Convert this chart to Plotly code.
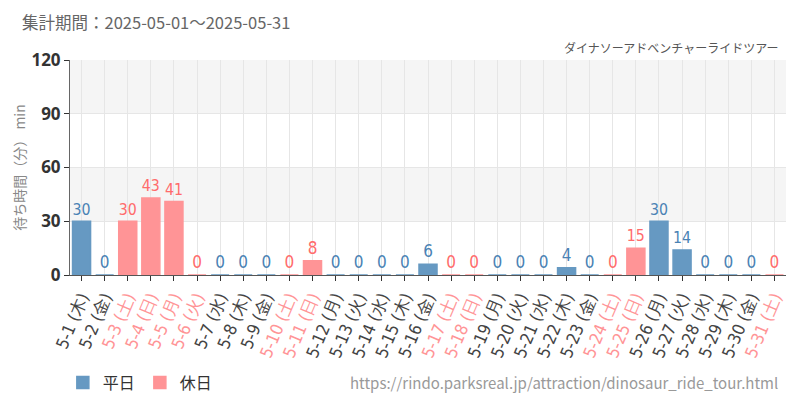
import plotly.graph_objects as go

days = [f"5-{d}" for d in range(1, 32)]
youbi = ["木", "金", "土", "日", "月", "火", "水", "木", "金", "土", "日",
         "月", "火", "水", "木", "金", "土", "日", "月", "火", "水", "木",
         "金", "土", "日", "月", "火", "水", "木", "金", "土"]
holiday = [0, 0, 1, 1, 1, 1, 0, 0, 0, 1, 1,
           0, 0, 0, 0, 0, 1, 1, 0, 0, 0, 0,
           0, 1, 1, 0, 0, 0, 0, 0, 1]
wait = [30, 0, 30, 43, 41, 0, 0, 0, 0, 0, 8,
        0, 0, 0, 0, 6, 0, 0, 0, 0, 0, 4,
        0, 0, 15, 30, 14, 0, 0, 0, 0]

BLUE = "#6699c2"
PINK = "#ff9496"
BLUE_TXT = "#4a82b4"
PINK_TXT = "#ff6b6b"

ticktext = []
for d, w, h in zip(days, youbi, holiday):
    lab = f"{d} ({w})"
    if h:
        lab = f'<span style="color:{PINK}">{lab}</span>'
    ticktext.append(lab)

heiji = [v if not h else None for v, h in zip(wait, holiday)]
kyuji = [v if h else None for v, h in zip(wait, holiday)]

fig = go.Figure()
for name, vals, col, tcol in [("平日", heiji, BLUE, BLUE_TXT), ("休日", kyuji, PINK, PINK_TXT)]:
    fig.add_trace(
        go.Bar(
            x=days,
            y=vals,
            name=name,
            marker_color=col,
            marker_line={"color": col, "width": 1.5},
            text=[str(v) if v is not None else "" for v in vals],
            textposition="outside",
            cliponaxis=False,
            textfont={"family": "DejaVu Sans Condensed", "size": 17, "color": tcol},
            width=0.78,
        )
    )

# alternating background bands
for y0, y1 in [(30, 60), (90, 120)]:
    fig.add_shape(type="rect", xref="paper", yref="y", x0=0, x1=1, y0=y0, y1=y1,
                  fillcolor="#f5f5f5", line_width=0, layer="below")

fig.add_annotation(text="集計期間：2025-05-01～2025-05-31", xref="paper", yref="paper",
                   x=-0.07, y=1.175, xanchor="left", yanchor="middle", showarrow=False,
                   font={"size": 16.5, "color": "#666"})
fig.add_annotation(text="ダイナソーアドベンチャーライドツアー", xref="paper", yref="paper",
                   x=0.992, y=1.06, xanchor="right", yanchor="middle", showarrow=False,
                   font={"size": 12, "color": "#555"})
fig.add_annotation(text="https://rindo.parksreal.jp/attraction/dinosaur_ride_tour.html",
                   xref="paper", yref="paper", x=0.992, y=-0.5, xanchor="right",
                   yanchor="middle", showarrow=False, font={"size": 15, "color": "#999"})

fig.update_layout(
    width=800,
    height=400,
    margin={"l": 70, "r": 14, "t": 60, "b": 125, "autoexpand": False},
    paper_bgcolor="white",
    plot_bgcolor="white",
    barmode="overlay",
    font={"family": "Noto Sans CJK JP"},
    showlegend=True,
    legend={
        "orientation": "h",
        "x": -0.01,
        "y": -0.5,
        "xanchor": "left",
        "yanchor": "middle",
        "font": {"size": 16, "color": "#333"},
        "bgcolor": "rgba(0,0,0,0)",
    },
    xaxis={
        "tickmode": "array",
        "tickvals": days,
        "ticktext": ticktext,
        "tickangle": -67,
        "tickfont": {"family": "DejaVu Sans Condensed", "size": 17, "color": "#444"},
        "showgrid": True,
        "gridcolor": "#e6e6e6",
        "ticks": "outside",
        "ticklen": 5,
        "tickcolor": "#333",
        "showline": True,
        "linecolor": "#555",
        "automargin": False,
        "fixedrange": True,
    },
    yaxis={
        "range": [0, 120],
        "tickvals": [0, 30, 60, 90, 120],
        "tickfont": {"family": "Open Sans", "size": 17, "color": "#333", "weight": "bold"},
        "showgrid": True,
        "gridcolor": "#e6e6e6",
        "zeroline": False,
        "ticks": "outside",
        "ticklen": 5,
        "tickcolor": "#333",
        "showline": True,
        "linecolor": "#666",
        "automargin": False,
        "title": {"text": "待ち時間（分） min", "font": {"size": 14, "color": "#888"}, "standoff": 2},
    },
)

fig.write_html("out.html", config={"displayModeBar": False},
               post_script="document.body.style.margin='0';")
